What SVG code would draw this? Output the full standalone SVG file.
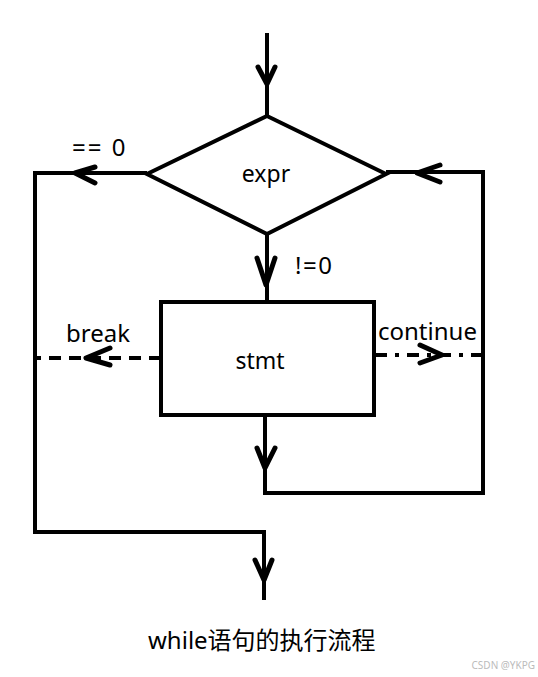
<svg xmlns="http://www.w3.org/2000/svg" width="538" height="677" viewBox="0 0 538 677">
<style>
.ln{fill:none;stroke:#000;stroke-width:4;stroke-linejoin:miter}
.ah{fill:none;stroke:#000;stroke-width:5;stroke-linecap:round;stroke-linejoin:round}
.dash{fill:none;stroke:#000;stroke-width:4;stroke-dasharray:12 8}
.dashdot{fill:none;stroke:#000;stroke-width:4;stroke-dasharray:12 8 4 8}
.t{font-family:"Noto Sans","Noto Sans CJK SC",sans-serif;font-size:23px;fill:#000}
.lbl{font-family:"Noto Sans","Noto Sans CJK SC",sans-serif;font-size:24px;fill:#000}
</style>
<rect width="538" height="677" fill="#fff"/>
<g id="node-expr">
<polygon class="ln" points="267,116 386,174 267,234 147,174"/>
<text class="t" x="266" y="182" text-anchor="middle">expr</text>
</g>
<g id="node-stmt">
<rect class="ln" x="161" y="302" width="213" height="113"/>
<text class="t" x="260" y="369" text-anchor="middle">stmt</text>
</g>
<g id="connectors">
<path class="ln" d="M267,33 V116"/>
<path class="ah" d="M258,67 L267,84 L275,67"/>
<path class="ln" d="M267,234 V302"/>
<path class="ah" d="M257,258 L266,285 L275,258"/>
<path class="ln" d="M147,173 H35 V532 H264 V600"/>
<path class="ah" d="M95,167 L75,173 L95,183"/>
<path class="ah" d="M255,560 L264,580 L272,560"/>
<path class="ln" d="M265,415 V493 H483 V172 H386"/>
<path class="ah" d="M257,448 L265,468 L275,448"/>
<path class="ah" d="M440,165 L417,173 L440,182"/>
<path class="dash" d="M161,358 H35"/>
<path class="ah" d="M110,348 L86,358 L110,365"/>
<path class="dashdot" d="M375,355 H483"/>
<path class="ah" d="M420,345 L442,355 L420,363"/>
<text class="lbl" x="72" y="156" letter-spacing="2">== 0</text>
<text class="lbl" x="295" y="274" letter-spacing="1.5">!=0</text>
<text class="lbl" x="66" y="342">break</text>
<text class="lbl" x="378" y="340">continue</text>
</g>
<text x="148" y="649" font-family="Noto Sans,'Noto Sans CJK SC',sans-serif" font-size="24" fill="#000">while语句的执行流程</text>
<text x="535" y="669" text-anchor="end" font-family="Noto Sans,sans-serif" font-size="10" fill="#bbb">CSDN @YKPG</text>
</svg>
